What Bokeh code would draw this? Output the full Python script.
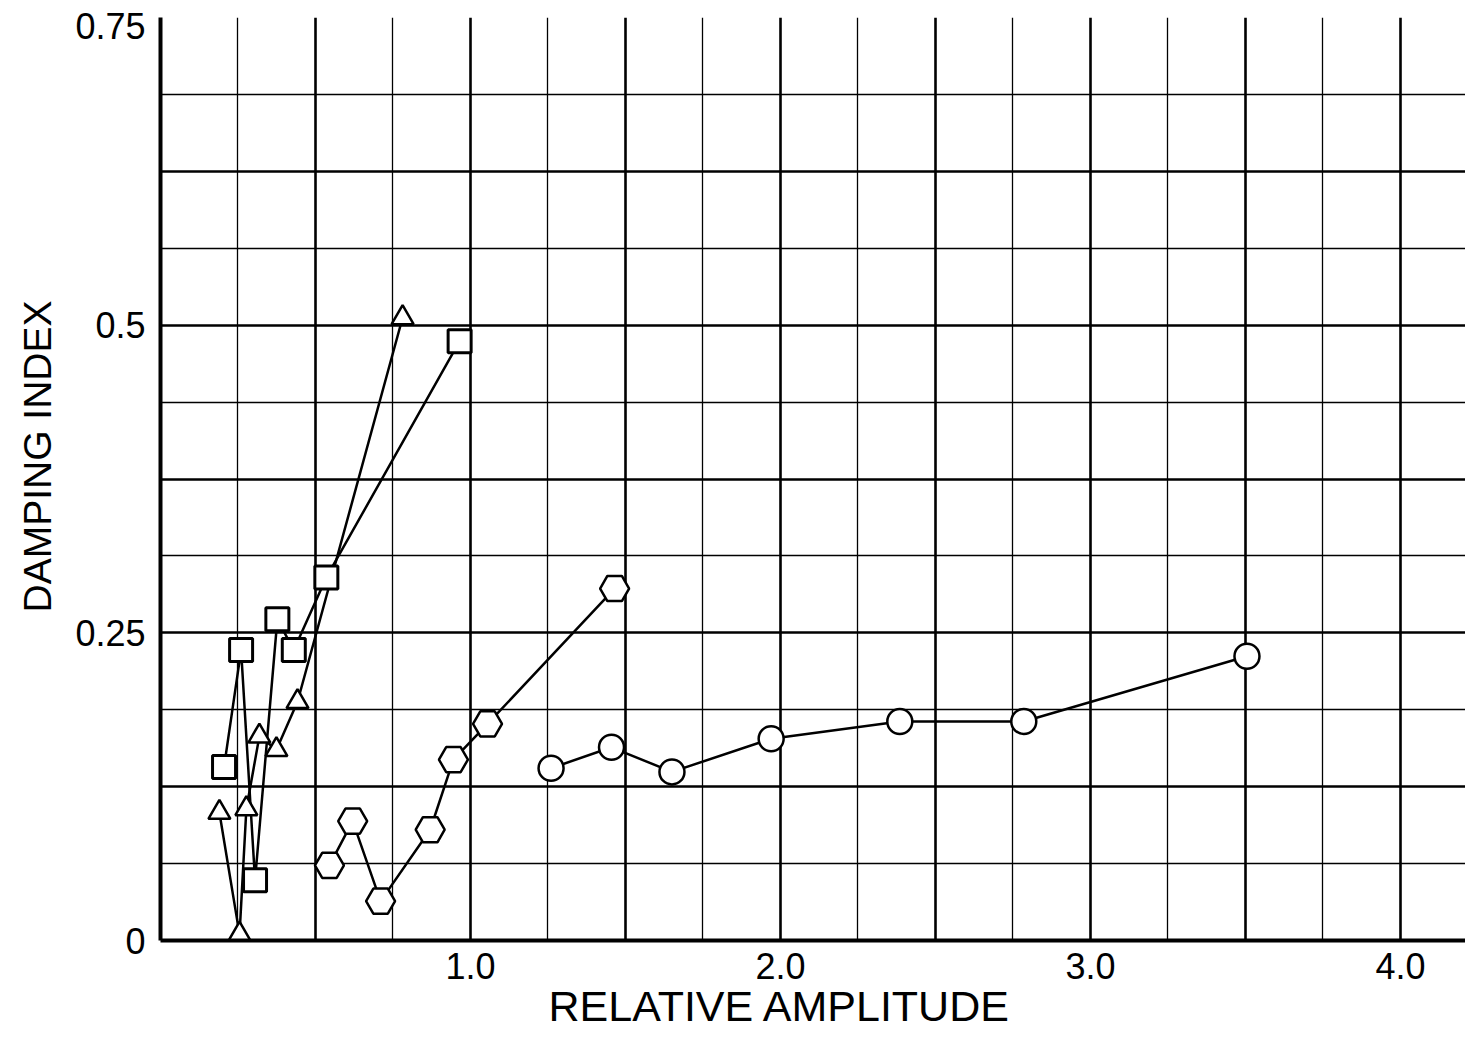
import numpy as np
from bokeh.plotting import figure
from bokeh.models import FixedTicker, Range1d, Title
from bokeh.embed import file_html
from bokeh.resources import INLINE

# ---- data ----
circle_x = [1.26, 1.455, 1.65, 1.97, 2.385, 2.785, 3.505]
circle_y = [0.140, 0.157, 0.137, 0.164, 0.178, 0.178, 0.231]

hex_x = [0.545, 0.62, 0.71, 0.87, 0.945, 1.055, 1.465]
hex_y = [0.061, 0.097, 0.032, 0.090, 0.147, 0.176, 0.286]

square_x = [0.205, 0.26, 0.305, 0.377, 0.43, 0.535, 0.965]
square_y = [0.141, 0.236, 0.049, 0.261, 0.236, 0.295, 0.487]

tri_x = [0.19, 0.255, 0.277, 0.319, 0.374, 0.442, 0.781]
tri_y = [0.104, 0.005, 0.107, 0.166, 0.155, 0.194, 0.506]

x_ticks = [1, 2, 3, 4]
x_tick_labels = ["1.0", "2.0", "3.0", "4.0"]
y_ticks = [0, 0.25, 0.5, 0.75]
y_tick_labels = ["0", "0.25", "0.5", "0.75"]

x_title = "RELATIVE AMPLITUDE"
y_title = "DAMPING INDEX"

FONT = "Liberation Sans"

p = figure(width=1465, height=1048, output_backend="svg", toolbar_location=None,
           x_range=Range1d(0, 4.21), y_range=Range1d(0, 0.75),
           min_border_left=160, min_border_right=0, min_border_top=17,
           min_border_bottom=108)
p.outline_line_color = None
p.background_fill_color = "white"
p.border_fill_color = "white"

# ---- axes ----
p.xaxis.ticker = FixedTicker(ticks=x_ticks)
p.xaxis.major_label_overrides = {t: s for t, s in zip(x_ticks, x_tick_labels)}
# the top label sits just below its grid line in the reference
y_label_pos = [t if t < 0.75 else t - 0.007 for t in y_ticks]
p.yaxis.ticker = FixedTicker(ticks=y_label_pos)
p.yaxis.major_label_overrides = {t: s for t, s in zip(y_label_pos, y_tick_labels)}
for ax in (p.xaxis, p.yaxis):
    ax.axis_line_width = 4
    ax.axis_line_color = "black"
    ax.major_tick_line_color = None
    ax.minor_tick_line_color = None
    ax.major_label_text_font = FONT
    ax.major_label_text_font_size = "36px"
    ax.major_label_text_color = "black"
p.xaxis.major_label_standoff = 6
p.yaxis.major_label_standoff = 9

# ---- graph-paper grid ----
heavy_x = list(np.arange(0.5, 4.21, 0.5))
light_x = list(np.arange(0.25, 4.21, 0.5))
heavy_y = list(np.arange(0.125, 0.751, 0.125))
light_y = list(np.arange(0.0625, 0.75, 0.125))
p.xgrid.ticker = FixedTicker(ticks=heavy_x, minor_ticks=light_x)
p.ygrid.ticker = FixedTicker(ticks=heavy_y, minor_ticks=light_y)
for g in (p.xgrid, p.ygrid):
    g.grid_line_color = "black"
    g.grid_line_width = 2.6
    g.grid_line_alpha = 1.0
    g.minor_grid_line_color = "black"
    g.minor_grid_line_width = 1.3
    g.minor_grid_line_alpha = 1.0

# ---- series ----
LW = 2.5
for xs, ys in ((circle_x, circle_y), (hex_x, hex_y), (square_x, square_y), (tri_x, tri_y)):
    p.line(xs, ys, line_color="black", line_width=LW)

p.scatter(circle_x, circle_y, marker="circle", size=25, fill_color="white",
          line_color="black", line_width=LW)
p.scatter(hex_x, hex_y, marker="hex", size=29, fill_color="white",
          line_color="black", line_width=LW)
p.scatter(tri_x, tri_y, marker="triangle", size=22, fill_color="white",
          line_color="black", line_width=LW)
p.scatter(square_x, square_y, marker="square", size=23, fill_color="white",
          line_color="black", line_width=3)

# ---- titles ----
p.add_layout(Title(text=x_title, align="left", offset=388, standoff=0,
                   vertical_align="top", text_font=FONT, text_font_size="43px",
                   text_font_style="normal", text_color="black"), "below")
p.add_layout(Title(text=y_title, align="left", offset=328, standoff=24,
                   vertical_align="top", text_font=FONT, text_font_size="39px",
                   text_font_style="normal", text_color="black"), "left")

open("out.html", "w").write(file_html(p, INLINE))
